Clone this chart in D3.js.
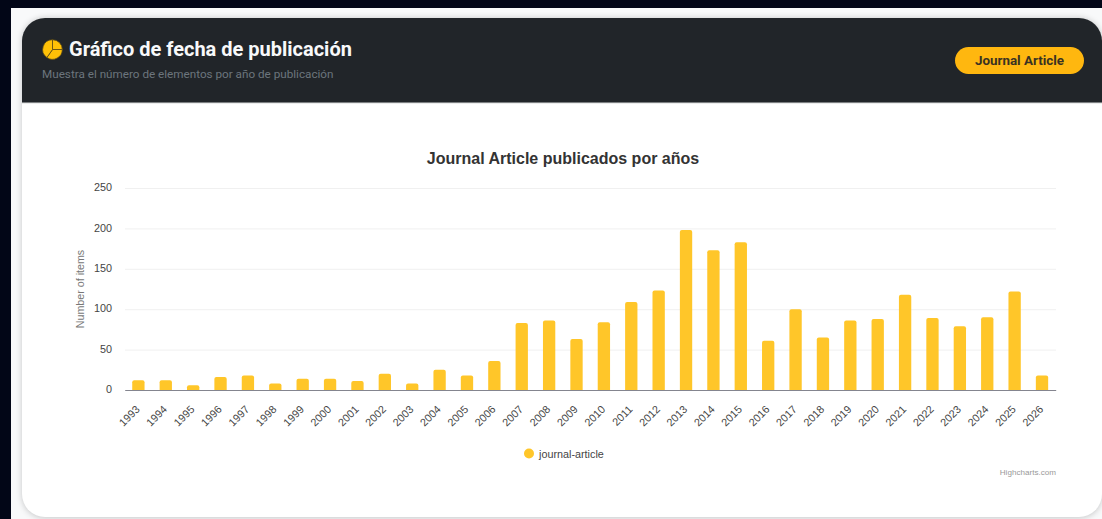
<!DOCTYPE html>
<html>
<head>
<meta charset="utf-8">
<script src="https://cdn.jsdelivr.net/npm/d3@7"></script>
<style>
html, body { margin: 0; padding: 0; background: #020617; overflow: hidden; }
svg { display: block; }
</style>
</head>
<body>
<script>
var width = 1102;
var height = 519;

var years = ["1993","1994","1995","1996","1997","1998","1999","2000","2001","2002","2003","2004","2005","2006","2007","2008","2009","2010","2011","2012","2013","2014","2015","2016","2017","2018","2019","2020","2021","2022","2023","2024","2025","2026"];
var counts = [12,12,6,16,18,8,14,14,11,20,8,25,18,36,83,86,63,84,109,123,198,173,183,61,100,65,86,88,118,89,79,90,122,18];
var yTicks = [0,50,100,150,200,250];
var iconWedges = [90,125,145];

var yellow = "#ffc629";
var sans = "Liberation Sans, Arial, sans-serif";

var svg = d3.select("body")
            .append("svg")
            .attr("width", width)
            .attr("height", height);

var defs = svg.append("defs");
var blur = defs.append("filter").attr("id", "soft").attr("x", "-5%").attr("y", "-5%").attr("width", "110%").attr("height", "110%");
blur.append("feGaussianBlur").attr("stdDeviation", 3);
defs.append("clipPath").attr("id", "cardClip")
  .append("rect").attr("x", 22).attr("y", 18).attr("width", 1080).attr("height", 499).attr("rx", 23);
defs.append("clipPath").attr("id", "pageClip")
  .append("rect").attr("x", 11).attr("y", 8).attr("width", 1091).attr("height", 511);

// page behind the card
svg.append("rect").attr("x", 11).attr("y", 8).attr("width", 1091).attr("height", 511).attr("fill", "#f8f9fa");
svg.append("g").attr("clip-path", "url(#pageClip)")
  .append("rect").attr("x", 22).attr("y", 18).attr("width", 1080).attr("height", 500).attr("rx", 23)
  .attr("fill", "#000").attr("opacity", 0.2).attr("filter", "url(#soft)");

var card = svg.append("g").attr("clip-path", "url(#cardClip)");
card.append("rect").attr("x", 22).attr("y", 18).attr("width", 1080).attr("height", 499).attr("fill", "#fff");
card.append("rect").attr("x", 22).attr("y", 18).attr("width", 1080).attr("height", 85).attr("fill", "#212529");
card.append("rect").attr("x", 22).attr("y", 102.5).attr("width", 1080).attr("height", 1).attr("fill", "#d8d9da");

// header icon, pie with three wedges
var icon = svg.append("g").attr("transform", "translate(52.5,49.5)");
var pie = d3.pie().sort(null).value(function(d) { return d; })(iconWedges);
var arc = d3.arc().innerRadius(0).outerRadius(9.8);
icon.selectAll("path").data(pie).enter().append("path")
  .attr("d", arc)
  .attr("fill", "#ffc107")
  .attr("stroke", "#5a4a16")
  .attr("stroke-width", 0.8);

svg.append("text").attr("x", 69).attr("y", 56)
  .attr("font-family", "Roboto, sans-serif").attr("font-weight", 700).attr("font-size", 20)
  .attr("fill", "#f8f9fa").text("Gráfico de fecha de publicación");
svg.append("text").attr("x", 42).attr("y", 78)
  .attr("font-family", "Roboto, sans-serif").attr("font-size", 11.7)
  .attr("fill", "#6c757d").text("Muestra el número de elementos por año de publicación");

svg.append("rect").attr("x", 955).attr("y", 47).attr("width", 129).attr("height", 27).attr("rx", 13.5).attr("fill", "#ffb70f");
svg.append("text").attr("x", 1019.5).attr("y", 64.5).attr("text-anchor", "middle")
  .attr("font-family", "Roboto, sans-serif").attr("font-weight", 700).attr("font-size", 13.4)
  .attr("fill", "#3a3222").text("Journal Article");

// chart
var x = d3.scaleBand().domain(years).range([124.7, 1055.7]).paddingInner(0.55).paddingOuter(0.275);
var y = d3.scaleLinear().domain([0, 250]).range([390, 188]);

svg.append("text").attr("x", 563).attr("y", 164).attr("text-anchor", "middle")
  .attr("font-family", sans).attr("font-weight", 700).attr("font-size", 16)
  .attr("fill", "#333").text("Journal Article publicados por años");

var yAxis = d3.axisLeft(y).tickValues(yTicks).tickSize(-(1056 - 125)).tickPadding(13);
var yG = svg.append("g").attr("transform", "translate(125,0)").call(yAxis);
yG.select(".domain").remove();
yG.selectAll("line").attr("stroke", "#f0f0f0").attr("stroke-width", 1);
yG.selectAll("line").filter(function(d) { return d === 0; }).remove();
yG.selectAll("text")
  .attr("font-family", sans).attr("font-size", 10.8).attr("fill", "#444")
  .attr("y", -0.8);

svg.append("text")
  .attr("transform", "translate(83.5,289) rotate(-90)")
  .attr("text-anchor", "middle")
  .attr("font-family", sans).attr("font-size", 10.7).attr("fill", "#777")
  .text("Number of items");

svg.selectAll(".bar").data(counts).enter().append("path")
  .attr("class", "bar")
  .attr("fill", yellow)
  .attr("d", function(d, i) {
    var bx = x(years[i]), w = x.bandwidth(), top = y(d), r = 2;
    return "M" + bx + ",390V" + (top + r) + "Q" + bx + "," + top + " " + (bx + r) + "," + top +
      "H" + (bx + w - r) + "Q" + (bx + w) + "," + top + " " + (bx + w) + "," + (top + r) + "V390Z";
  });

var xAxis = d3.axisBottom(x).tickSize(0).tickPadding(0);
var xG = svg.append("g").attr("transform", "translate(0,390)").call(xAxis);
xG.select(".domain").attr("stroke", "#84858f").attr("stroke-width", 1.2);
xG.selectAll("text")
  .attr("font-family", sans).attr("font-size", 10.8).attr("fill", "#444")
  .attr("text-anchor", "end")
  .attr("dy", 0)
  .attr("transform", "translate(2,20) rotate(-45)");

// legend
svg.append("circle").attr("cx", 529).attr("cy", 453.5).attr("r", 5).attr("fill", yellow);
svg.append("text").attr("x", 539).attr("y", 457.5)
  .attr("font-family", sans).attr("font-size", 10.8).attr("fill", "#444").text("journal-article");

svg.append("text").attr("x", 1056).attr("y", 475).attr("text-anchor", "end")
  .attr("font-family", sans).attr("font-size", 8.1).attr("fill", "#999").text("Highcharts.com");
</script>
</body>
</html>
